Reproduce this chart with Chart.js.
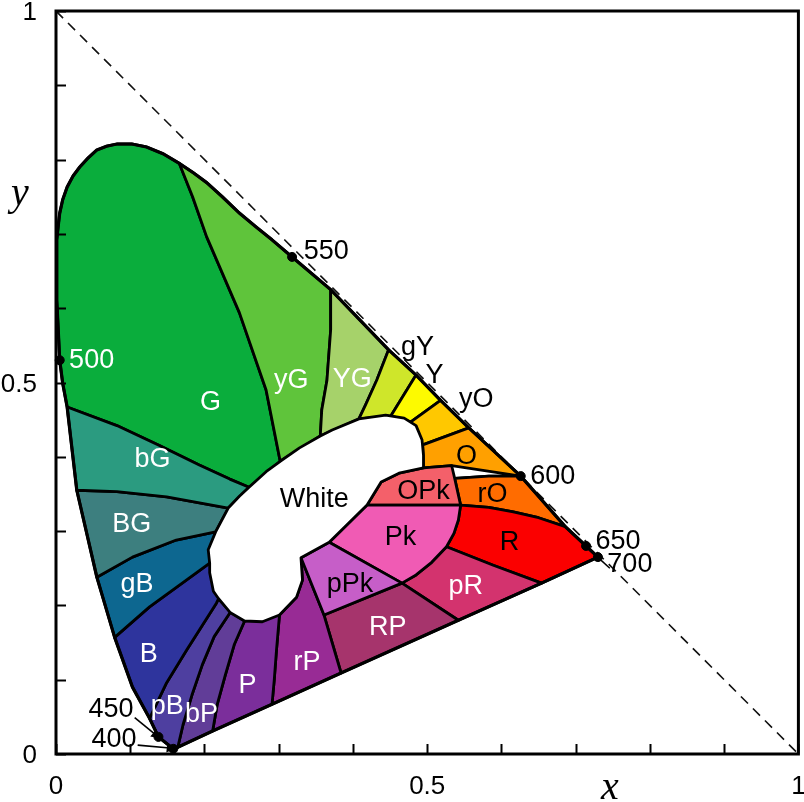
<!DOCTYPE html>
<html>
<head>
<meta charset="utf-8">
<script src="https://cdn.jsdelivr.net/npm/chart.js@4.4.1/dist/chart.umd.min.js"></script>
<style>
  html, body { margin: 0; padding: 0; background: #fff; }
  #chart { display: block; }
</style>
</head>
<body>
<canvas id="chart" width="804" height="802"></canvas>
<script>
const FONT = '"Liberation Sans", Arial, sans-serif';

// spectral locus, 400 nm round the horseshoe to 700 nm
const locus = [
  [0.158, 0.007], // 0  400
  [0.138, 0.023], // 1  450
  [0.126, 0.048], // 2  B / pB
  [0.103, 0.090],
  [0.079, 0.157], // 4  gB / B
  [0.055, 0.238], // 5  BG / gB
  [0.028, 0.355], // 6  bG / BG
  [0.015, 0.467], // 7  G / bG
  [0.009, 0.499],
  [0.005, 0.530], // 9  500
  [0.003, 0.571],
  [0.001, 0.611],
  [0.001, 0.651],
  [0.001, 0.692],
  [0.003, 0.711],
  [0.005, 0.728],
  [0.009, 0.746],
  [0.015, 0.763],
  [0.023, 0.778],
  [0.032, 0.790],
  [0.043, 0.802],
  [0.055, 0.813],
  [0.068, 0.818],
  [0.082, 0.821],
  [0.102, 0.821],
  [0.122, 0.817],
  [0.144, 0.808],
  [0.166, 0.795], // 27 G / yG
  [0.184, 0.783],
  [0.203, 0.769],
  [0.224, 0.750],
  [0.247, 0.728],
  [0.270, 0.709],
  [0.291, 0.692],
  [0.318, 0.669], // 34 550
  [0.370, 0.625], // 35 yG / YG
  [0.448, 0.544], // 36 YG / gY
  [0.485, 0.510], // 37 gY / Y
  [0.518, 0.476], // 38 Y / yO
  [0.556, 0.439], // 39 yO / O
  [0.626, 0.374], // 40 600, O / rO
  [0.686, 0.306], // 41 rO / R
  [0.714, 0.280], // 42 650
  [0.730, 0.265]  // 43 700
];
const i400 = 0, i450 = 1, iBpB = 2, igBB = 4, iBGgB = 5, ibGBG = 6, iGbG = 7, i500 = 9;
const iGyG = 27, i550 = 34, iyGYG = 35, iYGgY = 36, igYY = 37, iYyO = 38, iyOO = 39;
const i600 = 40, irOR = 41, i650 = 42, i700 = 43;

// line of purples, 700 back to 400
const purple = [[0.730, 0.265], [0.654, 0.230], [0.542, 0.180], [0.384, 0.109],
  [0.291, 0.067], [0.211, 0.031], [0.164, 0.009], [0.158, 0.007]];

// white area, clockwise
const white = [
  [0.260, 0.359], [0.283, 0.380], [0.302, 0.394], [0.328, 0.412], [0.356, 0.428],
  [0.372, 0.436], [0.408, 0.451], [0.444, 0.456], [0.469, 0.452], [0.485, 0.442],
  [0.493, 0.423], [0.495, 0.402], [0.495, 0.385], [0.462, 0.378], [0.438, 0.366],
  [0.419, 0.335], [0.368, 0.285], [0.330, 0.264], [0.332, 0.234], [0.324, 0.211],
  [0.301, 0.187], [0.278, 0.178], [0.254, 0.179], [0.235, 0.190], [0.219, 0.209],
  [0.212, 0.219], [0.207, 0.244], [0.207, 0.257], [0.205, 0.275], [0.215, 0.299],
  [0.232, 0.331], [0.247, 0.347]
];

// dividers, each from its outer end to its inner end
const gbG = [[0.015, 0.467], [0.082, 0.442], [0.140, 0.415], [0.193, 0.389], [0.234, 0.370], [0.260, 0.359]];
const gyG = [[0.166, 0.795], [0.184, 0.750], [0.203, 0.696], [0.247, 0.594], [0.283, 0.490], [0.302, 0.394]];
const yGYG = [[0.370, 0.625], [0.370, 0.571], [0.365, 0.503], [0.358, 0.463], [0.356, 0.428]];
const YGgY = [[0.448, 0.544], [0.432, 0.503], [0.417, 0.470], [0.408, 0.451]];
const gYY = [[0.485, 0.510], [0.451, 0.455]];
const YyO = [[0.518, 0.476], [0.478, 0.447]];
const yOO = [[0.556, 0.439], [0.494, 0.416]];
const OrO = [[0.626, 0.374], [0.583, 0.374], [0.537, 0.371]];
const rOR = [[0.686, 0.306], [0.650, 0.318], [0.616, 0.326], [0.583, 0.332], [0.545, 0.335]];
const pkEdge = [[0.545, 0.335], [0.542, 0.315], [0.536, 0.297], [0.526, 0.279], [0.506, 0.258], [0.485, 0.241], [0.466, 0.230]];
const RpR = [[0.654, 0.230], [0.589, 0.254], [0.526, 0.279]];
const pRRP = [[0.542, 0.180], [0.466, 0.230]];
const RPrP = [[0.384, 0.109], [0.361, 0.187]];
const pPkRP = [[0.361, 0.187], [0.466, 0.230]];
const pPkLeft = [[0.330, 0.264], [0.361, 0.187]];
const PrP = [[0.291, 0.067], [0.294, 0.100], [0.297, 0.140], [0.301, 0.187]];
const bPP = [[0.211, 0.031], [0.217, 0.066], [0.228, 0.106], [0.240, 0.147], [0.254, 0.179]];
const pBbP = [[0.164, 0.009], [0.171, 0.039], [0.183, 0.079], [0.197, 0.120], [0.213, 0.158], [0.235, 0.191]];
const BpB = [[0.126, 0.048], [0.149, 0.096], [0.176, 0.140], [0.216, 0.203], [0.219, 0.209]];
const gBB = [[0.079, 0.157], [0.126, 0.198], [0.170, 0.230], [0.207, 0.257]];
const BGgB = [[0.055, 0.238], [0.103, 0.265], [0.162, 0.288], [0.215, 0.299]];
const bGBG = [[0.028, 0.355], [0.082, 0.353], [0.149, 0.346], [0.232, 0.331]];

// inner pink patches
const opkShape = [[0.438, 0.366], [0.462, 0.378], [0.495, 0.385], [0.533, 0.388], [0.537, 0.371], [0.545, 0.335], [0.419, 0.335]];

const markers = [locus[i400], locus[i450], locus[i500], locus[i550], locus[i600], locus[i650], locus[i700]];
const arrow450 = [[0.106, 0.049], [0.134, 0.026]];
const arrow400 = [[0.110, 0.012], [0.153, 0.008]];
const leader700 = [[0.734, 0.261], [0.746, 0.250]];
const diagonal = [[0, 1], [1, 0]];

const labelledTicks = [0, 0.5, 1];

// text, x, y (baseline), colour
const regionLabels = [
  ['500', 0.048, 0.520, '#fff'], ['G', 0.208, 0.463, '#fff'], ['yG', 0.317, 0.493, '#fff'],
  ['YG', 0.399, 0.494, '#fff'], ['gY', 0.487, 0.537, '#000'], ['Y', 0.510, 0.499, '#000'],
  ['yO', 0.566, 0.467, '#000'], ['O', 0.553, 0.390, '#000'], ['rO', 0.588, 0.339, '#000'],
  ['OPk', 0.495, 0.343, '#000'], ['Pk', 0.464, 0.281, '#000'], ['R', 0.611, 0.275, '#000'],
  ['pR', 0.552, 0.215, '#fff'], ['pPk', 0.396, 0.218, '#000'], ['RP', 0.447, 0.160, '#fff'],
  ['rP', 0.338, 0.113, '#fff'], ['P', 0.258, 0.082, '#fff'], ['bP', 0.196, 0.043, '#fff'],
  ['pB', 0.150, 0.054, '#fff'], ['B', 0.125, 0.124, '#fff'], ['gB', 0.109, 0.218, '#fff'],
  ['BG', 0.102, 0.299, '#fff'], ['bG', 0.130, 0.386, '#fff'], ['White', 0.348, 0.332, '#000'],
  ['550', 0.364, 0.666, '#000'], ['600', 0.669, 0.363, '#000'], ['650', 0.757, 0.276, '#000'],
  ['700', 0.773, 0.245, '#000'], ['450', 0.074, 0.050, '#000'], ['400', 0.078, 0.009, '#000']
];

const rev = a => a.slice().reverse();
const seg = (i, j) => locus.slice(i, j + 1);
const toXY = pts => pts.map(([x, y]) => ({ x, y }));
function closed(...parts) {
  const pts = [].concat(...parts);
  pts.push(pts[0]);
  return toXY(pts);
}

const regions = [
  ['G', '#0aad3c', closed(seg(iGbG, iGyG), gyG, rev(gbG))],
  ['yG', '#5fc43b', closed(seg(iGyG, iyGYG), yGYG, rev(gyG))],
  ['YG', '#a6d26a', closed(seg(iyGYG, iYGgY), YGgY, rev(yGYG))],
  ['gY', '#cfe62a', closed(seg(iYGgY, igYY), gYY, rev(YGgY))],
  ['Y', '#fdfa00', closed(seg(igYY, iYyO), YyO, rev(gYY))],
  ['yO', '#ffc800', closed(seg(iYyO, iyOO), yOO, rev(YyO))],
  ['O', '#ffa000', closed(seg(iyOO, i600), rev(OrO), [[0.533, 0.388], [0.495, 0.385]], rev(yOO))],
  ['rO', '#ff6c00', closed(seg(i600, irOR), rOR, rev(OrO))],
  ['R', '#fb0000', closed(seg(irOR, i700), purple.slice(0, 2), RpR, rev(pkEdge.slice(0, 4)), rev(rOR))],
  ['pR', '#d3336e', closed(pkEdge.slice(3), rev(pRRP), rev(purple.slice(1, 3)), RpR)],
  ['RP', '#a6346c', closed(pPkRP, rev(pRRP), purple.slice(2, 4), RPrP)],
  ['rP', '#982b95', closed(purple.slice(3, 5), PrP, rev(white.slice(17, 20)), pPkLeft, rev(RPrP))],
  ['P', '#7b2e9b', closed(purple.slice(4, 6), bPP, rev(PrP))],
  ['bP', '#613d98', closed(purple.slice(5, 7), pBbP, rev(bPP))],
  ['pB', '#4e3fa0', closed(rev(seg(i400, iBpB)), pBbP, rev(BpB))],
  ['B', '#2e349d', closed(rev(seg(iBpB, igBB)), BpB, rev(gBB))],
  ['gB', '#0d6790', closed(rev(seg(igBB, iBGgB)), gBB, rev(BGgB))],
  ['BG', '#3d7f7f', closed(rev(seg(iBGgB, ibGBG)), BGgB, rev(bGBG))],
  ['bG', '#2b9b80', closed(rev(seg(ibGBG, iGbG)), bGBG, rev(gbG))],
  ['OPk', '#f4606a', closed(opkShape)],
  ['Pk', '#f05bb4', closed([[0.419, 0.335]], pkEdge, [[0.368, 0.285]])],
  ['pPk', '#c65ec8', closed([[0.330, 0.264], [0.368, 0.285]], pPkRP.slice(1), [pPkRP[0]])],
  ['White', '#ffffff', closed(white)]
];

const layers = [];
layers.push({
  data: toXY(diagonal), showLine: true, fill: false, borderColor: '#111',
  borderWidth: 1.6, borderDash: [10, 7], pointRadius: 0
});
regions.forEach(([name, color, pts]) => layers.push({
  label: name, data: pts, showLine: true, fill: 'shape', backgroundColor: color,
  borderColor: '#000', borderWidth: 2.8, borderJoinStyle: 'round', pointRadius: 0, tension: 0
}));
layers.push({
  data: toXY(seg(i400, i700).concat(purple.slice(1))), showLine: true, fill: false,
  borderColor: '#000', borderWidth: 3.2, borderJoinStyle: 'round', pointRadius: 0
});
[arrow450, arrow400].forEach(a => layers.push({
  data: toXY(a), showLine: true, fill: false, borderColor: '#000', borderWidth: 1.6,
  pointRadius: [0, 4], pointStyle: 'triangle', backgroundColor: '#000',
  pointRotation: [0, a === arrow450 ? 130 : 96], clip: false
}));
layers.push({
  data: toXY(leader700), showLine: true, fill: false, borderColor: '#000', borderWidth: 1.5,
  pointRadius: 0, clip: false
});
layers.push({
  data: toXY(markers), showLine: false, pointRadius: 4.5, pointBackgroundColor: '#000',
  pointBorderColor: '#000', clip: false
});
// later layers drawn on top
layers.forEach((d, i) => { d.order = layers.length - i; });

const tickText = v => {
  const hit = labelledTicks.find(t => Math.abs(t - v) < 1e-6);
  return hit === undefined ? '' : String(hit);
};

const decorations = {
  id: 'decorations',
  afterDatasetsDraw(chart) {
    const { ctx, scales: { x, y } } = chart;
    ctx.save();
    ctx.font = '27px ' + FONT;
    ctx.textAlign = 'center';
    ctx.textBaseline = 'alphabetic';
    regionLabels.forEach(([t, lx, ly, c]) => {
      ctx.fillStyle = c;
      ctx.fillText(t, x.getPixelForValue(lx), y.getPixelForValue(ly));
    });
    ctx.restore();
  },
  afterDraw(chart) {
    const { ctx, chartArea: a, scales: { x, y } } = chart;
    ctx.save();
    ctx.strokeStyle = '#000';
    ctx.lineWidth = 2;
    x.ticks.forEach(t => {
      const px = Math.round(x.getPixelForValue(t.value)) + 0.5;
      ctx.beginPath(); ctx.moveTo(px, a.bottom); ctx.lineTo(px, a.bottom - 10); ctx.stroke();
    });
    y.ticks.forEach(t => {
      const py = Math.round(y.getPixelForValue(t.value)) + 0.5;
      ctx.beginPath(); ctx.moveTo(a.left, py); ctx.lineTo(a.left + 10, py); ctx.stroke();
    });
    ctx.lineWidth = 3;
    ctx.strokeRect(a.left, a.top, a.right - a.left, a.bottom - a.top);
    ctx.fillStyle = '#000';
    ctx.font = 'italic 40px "Liberation Serif", "Times New Roman", serif';
    ctx.textAlign = 'center';
    ctx.fillText('x', x.getPixelForValue(0.746), a.bottom + 45);
    ctx.fillText('y', a.left - 36, y.getPixelForValue(0.739));
    ctx.restore();
  }
};

new Chart(document.getElementById('chart'), {
  type: 'scatter',
  data: { datasets: layers },
  options: {
    responsive: false,
    animation: false,
    devicePixelRatio: 1,
    events: [],
    layout: { padding: { top: 11, right: 3, left: 0, bottom: 0 } },
    plugins: { legend: { display: false }, tooltip: { enabled: false } },
    scales: {
      x: {
        type: 'linear', min: 0, max: 1,
        grid: { display: false }, border: { display: false },
        ticks: {
          stepSize: 0.1, autoSkip: false, maxRotation: 0, padding: 9, color: '#000',
          font: { family: FONT, size: 26 }, callback: tickText
        },
        afterFit: s => { s.height = 48; s.paddingLeft = 0; s.paddingRight = 0; }
      },
      y: {
        type: 'linear', min: 0, max: 1,
        grid: { display: false }, border: { display: false },
        ticks: {
          stepSize: 0.1, autoSkip: false, padding: 11, labelOffset: 2, color: '#000',
          font: { family: FONT, size: 26 }, callback: tickText
        },
        afterFit: s => { s.width = 56; s.paddingTop = 0; s.paddingBottom = 0; }
      }
    }
  },
  plugins: [decorations]
});
</script>
</body>
</html>
